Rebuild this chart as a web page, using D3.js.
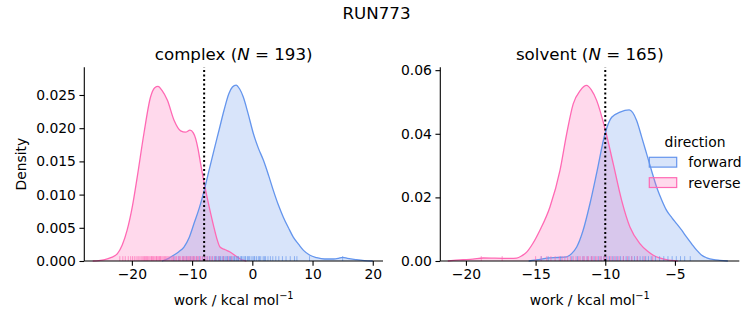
<!DOCTYPE html>
<html><head><meta charset="utf-8">
<script src="https://cdn.jsdelivr.net/npm/d3@7"></script>
<style>
body{margin:0;background:#fff}
svg{display:block}
text{font-family:"DejaVu Sans",sans-serif;fill:#000}
</style>
</head><body><svg id="c" width="753" height="325"></svg>
<script>
// ---------------- data ----------------
const suptitle = "RUN773";
const directions = ["forward", "reverse"];
const phases = ["complex", "solvent"];
const phaseN = [193, 165];
const vlineValues = [-8.0, -10.0];

const complexXTicks = [-20, -10, 0, 10, 20];
const complexYTicks = [0, 0.005, 0.010, 0.015, 0.020, 0.025];
const solventXTicks = [-20, -15, -10, -5];
const solventYTicks = [0, 0.02, 0.04, 0.06];

// KDE curves (work, density)
const complexForwardX = [-15, -13.9, -13, -12.2, -11.35, -10.5, -9.7, -8.8, -8.0, -7.2, -6.36, -5.5, -4.7, -3.9, -3.3, -2.7, -2.1, -1.5, -0.7, 0.17, 1.0, 1.83, 2.7, 3.5, 4.3, 5.15, 6.0, 6.8, 7.7, 8.5, 9.5, 10.7, 12.0, 13.5, 14.3, 15.0, 15.8, 17.3, 18.6, 20.0];
const complexForwardY = [0, 0.0004, 0.0009, 0.0014, 0.0021, 0.0035, 0.0056, 0.0080, 0.0106, 0.0136, 0.0167, 0.0198, 0.0227, 0.0252, 0.0262, 0.0265, 0.0259, 0.0247, 0.0222, 0.0192, 0.0170, 0.0152, 0.0129, 0.0106, 0.0085, 0.0066, 0.0050, 0.0036, 0.0025, 0.0016, 0.0009, 0.0005, 0.0003, 0.0003, 0.0004, 0.00056, 0.0004, 0.0002, 0.00007, 0];
const complexReverseX = [-26.5, -25.5, -24.5, -23.5, -22.4, -21.6, -20.8, -19.9, -19.1, -18.0, -16.9, -16.2, -15.66, -15.0, -14.1, -13.0, -11.9, -11.1, -10.35, -9.8, -9.4, -9.0, -8.6, -7.74, -6.9, -6.3, -5.8, -5.37, -4.5, -3.7, -2.8, -2.0, -1.0];
const complexReverseY = [0, 0.00005, 0.0002, 0.0005, 0.0011, 0.0024, 0.0046, 0.0083, 0.0127, 0.0192, 0.0247, 0.0261, 0.0263, 0.0257, 0.0242, 0.0212, 0.0196, 0.0194, 0.0197, 0.0193, 0.0184, 0.0168, 0.0147, 0.0106, 0.0071, 0.0048, 0.0031, 0.0021, 0.0017, 0.00136, 0.0008, 0.0003, 0];
const solventForwardX = [-15.5, -14.8, -14.0, -13.4, -12.77, -12.4, -12.05, -11.6, -11.1, -10.6, -10.02, -9.54, -8.94, -8.28, -7.75, -7.4, -7.03, -6.67, -6.31, -5.95, -5.6, -5.2, -4.87, -4.5, -4.16, -3.8, -3.44, -3.1, -2.72, -2.2, -1.77, -1.2];
const solventForwardY = [0, 0.0004, 0.001, 0.0011, 0.0013, 0.0024, 0.0044, 0.0095, 0.018, 0.028, 0.0400, 0.0452, 0.0468, 0.0475, 0.0442, 0.0392, 0.0337, 0.0283, 0.0232, 0.0192, 0.0159, 0.0135, 0.0117, 0.0096, 0.0075, 0.0054, 0.0034, 0.0019, 0.0010, 0.0004, 0.0002, 0];
const solventReverseX = [-21.3, -20.9, -20.2, -19.5, -18.76, -18.0, -17.3, -16.8, -16.36, -16.0, -15.64, -15.2, -14.7, -13.97, -13.25, -12.77, -12.3, -11.8, -11.34, -11.0, -10.62, -10.02, -9.43, -8.82, -8.23, -7.5, -7.0, -6.55, -5.6, -4.8];
const solventReverseY = [0, 0.0002, 0.0004, 0.0006, 0.00094, 0.0009, 0.00085, 0.0008, 0.0009, 0.0016, 0.0028, 0.0055, 0.0096, 0.017, 0.0285, 0.040, 0.0494, 0.0536, 0.0552, 0.0538, 0.0505, 0.0416, 0.0306, 0.019, 0.0107, 0.0054, 0.0032, 0.0018, 0.0004, 0];

// rug (individual work values), estimated
const complexForwardRug = [-13.0, -12.2, -11.5, -10.9, -10.3, -9.8, -9.3, -8.8, -8.3, -7.9, -7.5, -7.1, -6.7, -6.3, -6.1, -5.9, -5.6, -5.4, -5.3, -5.0, -4.8, -4.7, -4.4, -4.2, -4.1, -3.8, -3.6, -3.5, -3.2, -3.0, -2.9, -2.6, -2.4, -2.3, -2.0, -1.8, -1.7, -1.4, -1.2, -1.1, -0.8, -0.6, -0.5, -0.2, 0.1, 0.3, 0.4, 0.7, 1.0, 1.2, 1.4, 1.8, 2.0, 2.2, 2.6, 3.0, 3.4, 3.9, 4.4, 5.0, 5.6, 6.3, 7.0, 7.4, 9.5, 15.0];
const complexReverseRug = [-22.0, -21.5, -21.1, -20.6, -20.2, -19.9, -19.6, -19.3, -19.0, -18.8, -18.5, -18.3, -18.1, -17.9, -17.7, -17.6, -17.4, -17.2, -17.0, -16.8, -16.7, -16.6, -16.4, -16.2, -16.0, -15.9, -15.8, -15.6, -15.4, -15.3, -15.2, -15.0, -14.8, -14.6, -14.4, -14.2, -14.0, -13.8, -13.5, -13.3, -13.1, -12.8, -12.6, -12.3, -12.1, -11.9, -11.6, -11.4, -11.2, -11.0, -10.8, -10.6, -10.4, -10.2, -10.0, -9.8, -9.6, -9.3, -9.1, -8.9, -8.6, -8.3, -8.0, -7.7, -7.4, -7.0, -6.6, -6.1, -5.5, -4.8, -4.0, -3.4];
const solventForwardRug = [-14.6, -14.1, -13.2, -12.4, -12.0, -11.6, -11.3, -11.0, -10.8, -10.5, -10.3, -10.1, -9.9, -9.7, -9.5, -9.3, -9.1, -8.9, -8.7, -8.5, -8.3, -8.1, -7.9, -7.7, -7.5, -7.3, -7.1, -6.9, -6.7, -6.4, -6.1, -5.8, -5.5, -5.2, -4.9, -4.6, -4.3, -3.9];
const solventReverseRug = [-18.9, -17.4, -15.0, -14.6, -14.2, -13.9, -13.6, -13.3, -13.1, -12.9, -12.7, -12.5, -12.3, -12.1, -11.9, -11.8, -11.6, -11.5, -11.3, -11.2, -11.0, -10.9, -10.7, -10.6, -10.4, -10.3, -10.1, -10.0, -9.8, -9.6, -9.4, -9.2, -9.0, -8.7, -8.4, -8.1, -7.7, -7.2, -6.6];

// ---------------- drawing ----------------
const palette = {forward: "#6495ED", reverse: "#FF69B4"};
const FS = 13.9;
const svg = d3.select("#c");

svg.append("text").attr("x", 376.5).attr("y", 19).attr("text-anchor", "middle")
  .attr("font-size", 16.67).text(suptitle);

function zip(xs, ys) { return xs.map((v, i) => [v, ys[i]]); }

const panels = [
  {phase: phases[0], N: phaseN[0], vline: vlineValues[0], left: 84.3, right: 383, top: 67.3, bottom: 261,
   xDomain: [-27.9, 21.7], yDomain: [0, 0.02917], xTicks: complexXTicks, yTicks: complexYTicks, yFmt: d3.format(".3f"),
   curves: {forward: zip(complexForwardX, complexForwardY), reverse: zip(complexReverseX, complexReverseY)},
   rugs: {forward: complexForwardRug, reverse: complexReverseRug}, ylabel: true, legend: false},
  {phase: phases[1], N: phaseN[1], vline: vlineValues[1], left: 440.3, right: 739.3, top: 67.3, bottom: 261,
   xDomain: [-21.84, -0.38], yDomain: [0, 0.0609], xTicks: solventXTicks, yTicks: solventYTicks, yFmt: d3.format(".2f"),
   curves: {forward: zip(solventForwardX, solventForwardY), reverse: zip(solventReverseX, solventReverseY)},
   rugs: {forward: solventForwardRug, reverse: solventReverseRug}, ylabel: false, legend: true}
];

panels.forEach(p => {
  const x = d3.scaleLinear().domain(p.xDomain).range([p.left, p.right]);
  const y = d3.scaleLinear().domain(p.yDomain).range([p.bottom, p.top]);
  const g = svg.append("g");

  const area = d3.area().x(d => x(d[0])).y0(y(0)).y1(d => y(d[1])).curve(d3.curveMonotoneX);
  const line = d3.line().x(d => x(d[0])).y(d => y(d[1])).curve(d3.curveMonotoneX);

  ["reverse", "forward"].forEach(dir => {
    g.append("path").datum(p.curves[dir]).attr("d", area)
      .attr("fill", palette[dir]).attr("fill-opacity", 0.25).attr("stroke", "none");
  });
  ["reverse", "forward"].forEach(dir => {
    g.append("path").datum(p.curves[dir]).attr("d", line)
      .attr("fill", "none").attr("stroke", palette[dir]).attr("stroke-width", 1.3);
  });

  // rugs
  const rugH = 0.025 * (p.bottom - p.top);
  directions.forEach(dir => {
    g.append("g").selectAll("line").data(p.rugs[dir]).join("line")
      .attr("x1", d => x(d)).attr("x2", d => x(d))
      .attr("y1", p.bottom).attr("y2", p.bottom - rugH)
      .attr("stroke", palette[dir]).attr("stroke-width", 1).attr("stroke-opacity", 0.65);
  });

  // dotted vertical line
  g.append("line").attr("x1", x(p.vline)).attr("x2", x(p.vline))
    .attr("y1", p.bottom).attr("y2", p.top)
    .attr("stroke", "#000").attr("stroke-width", 2).attr("stroke-dasharray", "2,2.5");

  // axes
  const xAxis = d3.axisBottom(x).tickValues(p.xTicks).tickFormat(d3.format("d"))
    .tickSize(4.86).tickSizeOuter(0).tickPadding(3.5);
  const yAxis = d3.axisLeft(y).tickValues(p.yTicks).tickFormat(p.yFmt)
    .tickSize(4.86).tickSizeOuter(0).tickPadding(3.5);
  const gx = g.append("g").attr("transform", `translate(0,${p.bottom})`).call(xAxis);
  const gy = g.append("g").attr("transform", `translate(${p.left},0)`).call(yAxis);
  [gx, gy].forEach(a => {
    a.attr("font-family", null).attr("font-size", null);
    a.selectAll("text").attr("font-size", FS).attr("fill", "#000");
    a.selectAll("line").attr("stroke", "#000").attr("stroke-width", 1.1);
    a.select(".domain").attr("stroke", "#000").attr("stroke-width", 1.1);
  });
  gx.select(".domain").attr("d", `M${p.left},0H${p.right}`);
  gy.select(".domain").attr("d", `M0,${p.bottom}V${p.top}`);

  // x label
  const xl = g.append("text").attr("x", (p.left + p.right) / 2).attr("y", 305)
    .attr("text-anchor", "middle").attr("font-size", FS);
  xl.append("tspan").text("work / kcal mol");
  xl.append("tspan").attr("dy", -6).attr("font-size", 9.8).text("\u22121");

  // title
  const t = g.append("text").attr("x", (p.left + p.right) / 2).attr("y", 60)
    .attr("text-anchor", "middle").attr("font-size", 16.67);
  t.append("tspan").text(p.phase + " (");
  t.append("tspan").attr("font-style", "italic").text("N");
  t.append("tspan").text(" = " + p.N + ")");

  if (p.ylabel) {
    g.append("text").attr("transform", `translate(26,${(p.top + p.bottom) / 2}) rotate(-90)`)
      .attr("text-anchor", "middle").attr("font-size", FS).text("Density");
  }

  if (p.legend) {
    const lg = g.append("g");
    lg.append("text").attr("x", 695).attr("y", 146.5).attr("text-anchor", "middle")
      .attr("font-size", FS).text("direction");
    directions.forEach((dir, i) => {
      const yy = 157.3 + i * 20.4;
      lg.append("rect").attr("x", 649.3).attr("y", yy).attr("width", 27.4).attr("height", 9.8)
        .attr("fill", palette[dir]).attr("fill-opacity", 0.25)
        .attr("stroke", palette[dir]).attr("stroke-width", 1.2);
      lg.append("text").attr("x", 688.3).attr("y", yy + 9.8).attr("font-size", FS).text(dir);
    });
  }
});
</script>
</body></html>
